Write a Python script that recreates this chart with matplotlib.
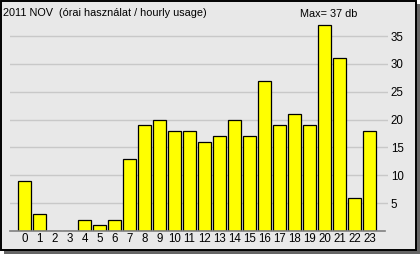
import matplotlib
matplotlib.use("Agg")
import matplotlib.pyplot as plt
from matplotlib.patches import Rectangle

hours = list(range(24))
usage = [9, 3, 0, 0, 2, 1, 2, 13, 19, 20, 18, 18, 16, 17, 20, 17, 27, 19, 21, 19, 37, 31, 6, 18]
y_ticks = [5, 10, 15, 20, 25, 30, 35]
title = "2011 NOV  (órai használat / hourly usage)"
max_label = "Max= 37 db"

W, H = 420, 254
plt.rcParams['font.family'] = ['Liberation Sans', 'DejaVu Sans']
fig = plt.figure(figsize=(W / 100, H / 100), dpi=100)
fig.patch.set_facecolor('white')

def px(x0, y0, x1, y1):
    return (x0 / W, 1 - y1 / H, (x1 - x0) / W, (y1 - y0) / H)

# shadow
l, b, w, h = px(4, 4, 420, 254)
fig.patches.append(Rectangle((l, b), w, h, transform=fig.transFigure,
                             facecolor='#666666', edgecolor='none', zorder=0))
# panel
l, b, w, h = px(0.5, 0.5, 415.5, 249.5)
fig.patches.append(Rectangle((l, b), w, h, transform=fig.transFigure,
                             facecolor='#e8e8e8', edgecolor='black', linewidth=1.4, zorder=1))

ax = fig.add_axes(px(10, 20, 388, 231))
ax.set_facecolor('none')
ax.set_zorder(2)
ax.set_xlim(-0.97, 24.23)
ax.set_ylim(0, 37.9)
for yt in y_ticks:
    ax.axhline(yt, color='#c8c8c8', linewidth=1, zorder=1)
ax.bar(hours, usage, width=0.82, color='#ffff00', edgecolor='black', linewidth=0.9, zorder=3)
ax.axhline(0, xmax=(385 - 10) / 378, color='#808080', linewidth=1.2, zorder=4, clip_on=False)

for s in ax.spines.values():
    s.set_visible(False)
ax.set_xticks(hours)
ax.set_xticklabels([str(hh) for hh in hours], fontsize=8.3)
ax.tick_params(axis='x', length=0, pad=1.5)
ax.yaxis.tick_right()
ax.set_yticks(y_ticks)
ax.set_yticklabels([str(v) for v in y_ticks], fontsize=8.3)
ax.tick_params(axis='y', length=0, pad=2)

fig.text(3 / W, 1 - 13 / H, title, fontsize=7.8, va='center', ha='left', zorder=5)
fig.text(329 / W, 1 - 14 / H, max_label, fontsize=7.8, va='center', ha='center', zorder=5)

fig.savefig('out.png', dpi=100, facecolor=fig.get_facecolor())
